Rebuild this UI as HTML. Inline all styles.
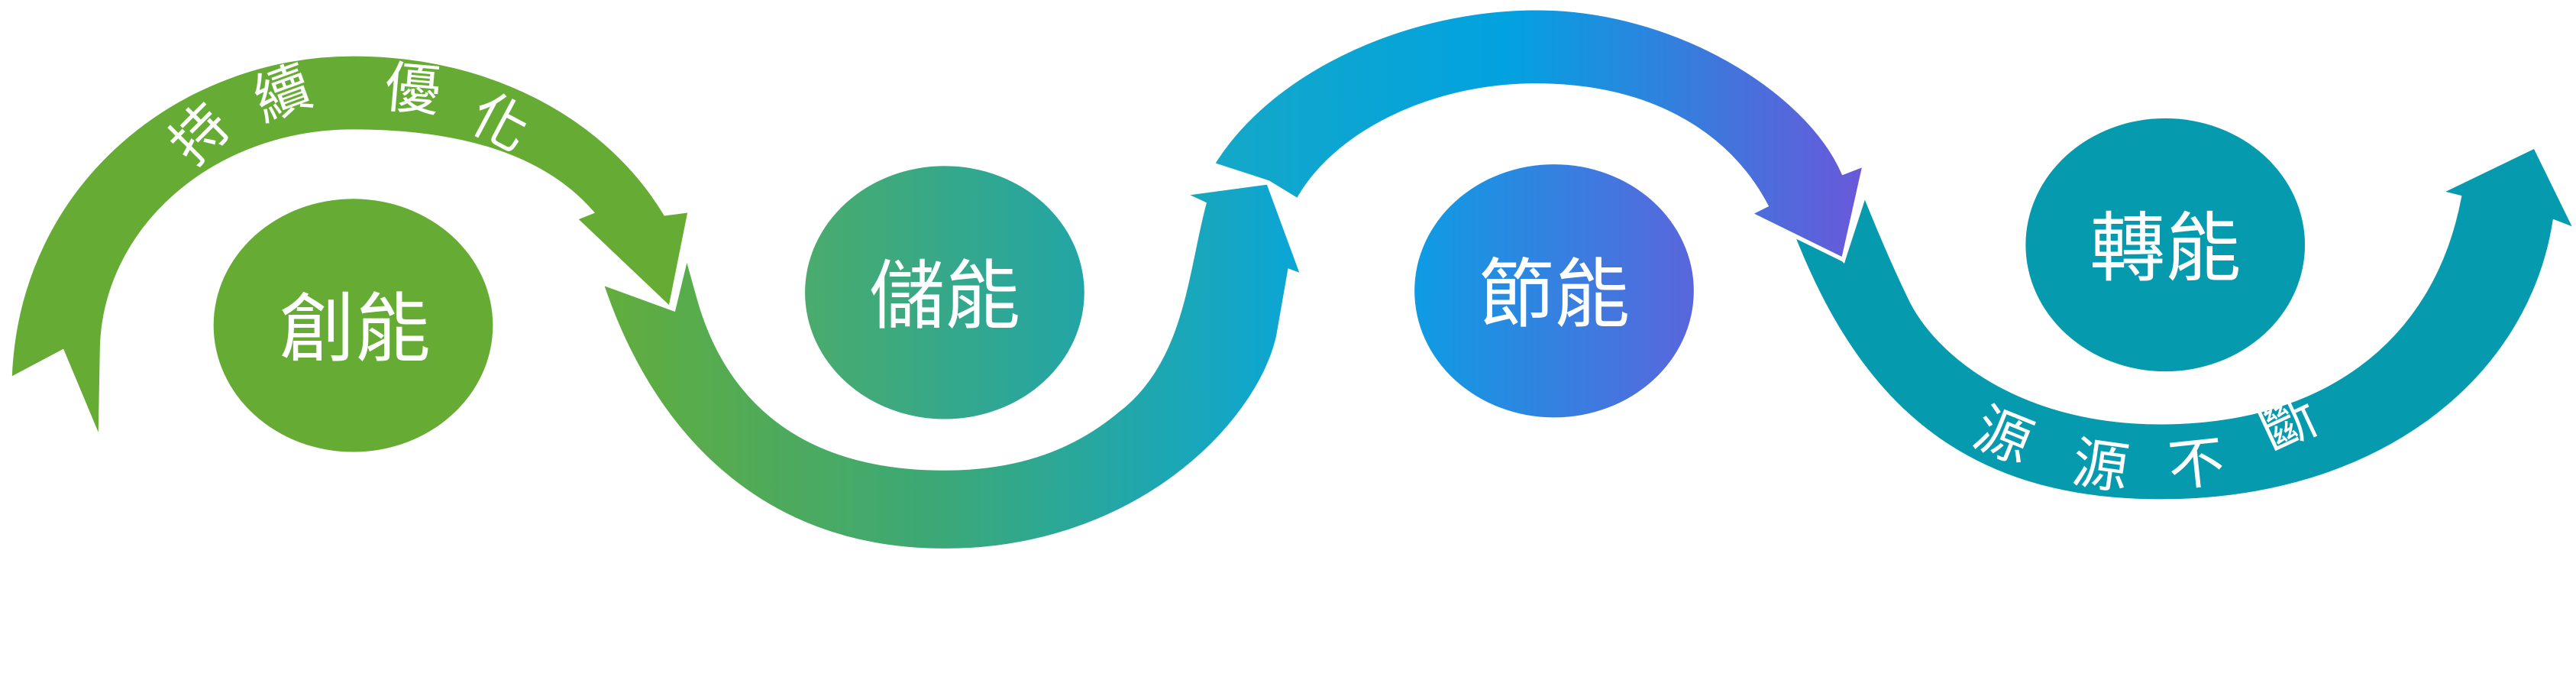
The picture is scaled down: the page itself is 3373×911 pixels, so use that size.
<!DOCTYPE html>
<html><head><meta charset="utf-8"><style>
html,body{margin:0;padding:0;background:#fff;}
svg{display:block;}
text{font-family:"Liberation Sans","Noto Sans CJK TC","Noto Sans CJK SC",sans-serif;fill:#fff;font-weight:normal;}
</style></head><body>
<svg width="3373" height="911" viewBox="0 0 1568 423.5" preserveAspectRatio="none" xmlns="http://www.w3.org/2000/svg">
<defs>
<linearGradient id="g2" x1="366" y1="0" x2="793" y2="0" gradientUnits="userSpaceOnUse">
<stop offset="0" stop-color="#62ad3c"/><stop offset="0.5" stop-color="#3aa87a"/><stop offset="1" stop-color="#0aa6d8"/></linearGradient>
<linearGradient id="g3" x1="738" y1="0" x2="1135" y2="0" gradientUnits="userSpaceOnUse">
<stop offset="0" stop-color="#14a8c8"/><stop offset="0.45" stop-color="#02a2e0"/><stop offset="1" stop-color="#6a58da"/></linearGradient>
<linearGradient id="e2" x1="490" y1="0" x2="660" y2="0" gradientUnits="userSpaceOnUse">
<stop offset="0" stop-color="#4aab6c"/><stop offset="1" stop-color="#22a5a6"/></linearGradient>
<linearGradient id="e3" x1="861" y1="0" x2="1031" y2="0" gradientUnits="userSpaceOnUse">
<stop offset="0" stop-color="#0e9ce4"/><stop offset="1" stop-color="#5a66dc"/></linearGradient>
</defs>
<g stroke="#fff" stroke-width="2.5" stroke-linejoin="miter">
<path fill="#66ac34" d="M6,231 C10,110 110,33 215,33 C300,33 370,72 405,130 L420,128 L408,188 L350,133 L360,129 C330,95 280,80 215,80 C130,80 62,140 62,215 L61,269 L38,214 Z"/>
<path fill="url(#g2)" d="M366,172 C395,260 460,335 575,335 C690,335 765,260 778,205 L785,165 L793,168 L772,111 L720,118 L733,124 C722,165 720,220 680,250 C650,275 615,285 575,285 C480,285 440,235 425,180 L418,155 L410,188 Z"/>
<path fill="#069aae" d="M1082,118 C1120,230 1180,305 1315,305 C1450,305 1540,230 1555,135 L1568,140 L1543,89 L1485,117 L1497,120 C1480,210 1410,257 1315,257 C1230,257 1178,215 1162,180 C1150,155 1142,135 1135,118 L1122,158 Z"/>
<path fill="url(#g3)" d="M738,100 C775,40 860,5 935,5 C1020,5 1100,55 1122,105 L1135,100 L1122,158 L1065,130 L1075,125 C1050,78 1000,52 935,52 C870,52 812,82 790,122 L772,111 Z"/>
</g>
<ellipse cx="215" cy="198" rx="85" ry="77" fill="#66ac34"/>
<ellipse cx="575" cy="178" rx="85" ry="77" fill="url(#e2)"/>
<ellipse cx="946" cy="177" rx="85" ry="77" fill="url(#e3)"/>
<ellipse cx="1318" cy="149" rx="85" ry="77" fill="#069aae"/>
<g font-size="46" text-anchor="middle">
<text x="216" y="216">創能</text>
<text x="575" y="196">儲能</text>
<text x="946" y="195">節能</text>
<text x="1318" y="167">轉能</text>
</g>
<g font-size="34" text-anchor="middle">
<text transform="translate(130,90) rotate(-45)">持</text>
<text transform="translate(176,68) rotate(-20)">續</text>
<text transform="translate(250,66) rotate(5)">優</text>
<text transform="translate(299,85) rotate(28)">化</text>
<text transform="translate(1215,276) rotate(22)">源</text>
<text transform="translate(1277,295) rotate(8)">源</text>
<text transform="translate(1338,294) rotate(-6)">不</text>
<text transform="translate(1398,268) rotate(-25)">斷</text>
</g>
</svg>
</body></html>
